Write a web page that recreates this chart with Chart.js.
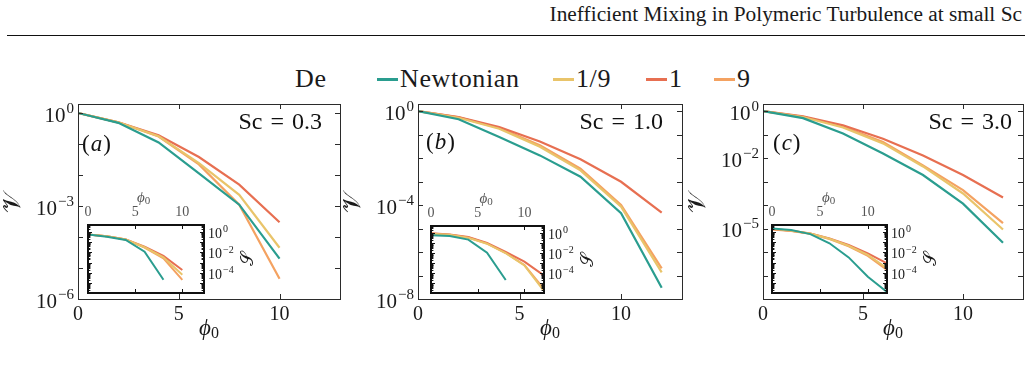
<!DOCTYPE html>
<html>
<head>
<meta charset="utf-8">
<script src="https://cdn.jsdelivr.net/npm/chart.js@4.4.1/dist/chart.umd.min.js"></script>
<style>
  body { margin: 0; width: 1033px; height: 370px; background: #fff; position: relative; overflow: hidden;
         font-family: "Liberation Serif", "DejaVu Serif", serif; color: #1a1a1a; }
  canvas { position: absolute; }
  .txt { position: absolute; white-space: nowrap; line-height: 1; }
  #header { top: 4px; right: 11px; font-size: 20px; }
  #rule { position: absolute; left: 7px; width: 1018px; top: 35px; border-top: 1.4px solid #111; }
  .swatch { position: absolute; height: 3px; }
</style>
</head>
<body>
<div id="header" class="txt">Inefficient Mixing in Polymeric Turbulence at small Sc</div>
<div id="rule"></div>
<div id="legend"></div>
<canvas id="mainA"></canvas>
<canvas id="insetA"></canvas>
<canvas id="mainB"></canvas>
<canvas id="insetB"></canvas>
<canvas id="mainC"></canvas>
<canvas id="insetC"></canvas>
<script>
// Series: Deborah number
const seriesNames = ['Newtonian', '1/9', '1', '9'];
const seriesColors = ['#2a9d8f', '#e9c46a', '#e76f51', '#f4a261'];

// phi_0 sample points
const phiTo8 = [0, 2, 4, 6, 8];
const phiTo10 = [0, 2, 4, 6, 8, 10];
const phiTo12 = [0, 2, 4, 6, 8, 10, 12];

// (a) Sc = 0.3 : V(phi_0)
const vA_newt = [1, 0.48, 0.112, 0.0112, 0.0011, 2.0e-5];
const vA_de19 = [1, 0.5, 0.178, 0.024, 0.0023, 4.5e-5];
const vA_de1  = [1, 0.5, 0.19, 0.038, 0.0049, 3.0e-4];
const vA_de9  = [1, 0.5, 0.174, 0.022, 0.0011, 4.5e-6];
// (a) inset : S(phi_0)
const sA_newt = [0.59, 0.355, 0.166, 0.0117, 2.0e-5];
const sA_de19 = [0.59, 0.4, 0.19, 0.032, 0.0033, 6.3e-5];
const sA_de1  = [0.59, 0.4, 0.19, 0.036, 0.0045, 1.86e-4];
const sA_de9  = [0.59, 0.4, 0.19, 0.029, 0.0026, 2.0e-5];

// (b) Sc = 1.0
const vB_newt = [1, 0.45, 0.079, 0.013, 0.0016, 4.5e-5, 3.0e-8];
const vB_de19 = [1, 0.52, 0.178, 0.03, 0.003, 8.5e-5, 1.35e-7];
const vB_de1  = [1, 0.56, 0.21, 0.051, 0.0089, 9.8e-4, 4.8e-5];
const vB_de9  = [1, 0.54, 0.19, 0.035, 0.0035, 1.0e-4, 2.0e-7];
const sB_newt = [0.59, 0.5, 0.22, 0.0105, 2.0e-5];
const sB_de19 = [0.83, 0.66, 0.33, 0.085, 0.0095, 5.6e-4, 2.1e-6];
const sB_de1  = [0.93, 0.71, 0.4, 0.1, 0.013, 0.00135, 6.5e-5];
const sB_de9  = [0.89, 0.68, 0.355, 0.089, 0.01, 6.3e-4, 3.2e-6];

// (c) Sc = 3.0
const vC_newt = [1, 0.5, 0.11, 0.0155, 0.0019, 1.15e-4, 2.5e-6];
const vC_de19 = [1, 0.56, 0.2, 0.042, 0.0044, 3.1e-4, 9.1e-6];
const vC_de1  = [1, 0.6, 0.25, 0.066, 0.0129, 0.0019, 2.1e-4];
const vC_de9  = [1, 0.575, 0.22, 0.048, 0.0049, 4.3e-4, 1.7e-5];
const sC_newt = [2.3, 1.58, 0.63, 0.079, 0.0032, 4.0e-5, 1.26e-6];
const sC_de19 = [2.14, 1.35, 0.72, 0.224, 0.045, 0.0056, 2.8e-4];
const sC_de1  = [2.0, 1.35, 0.74, 0.24, 0.054, 0.0079, 8.5e-4];
const sC_de9  = [1.78, 1.26, 0.69, 0.21, 0.04, 0.0045, 1.9e-4];

// Tick labels
const xTickLabels = [0, 5, 10];
const yLabelsA = [1, 1e-3, 1e-6];
const yLabelsB = [1, 1e-4, 1e-8];
const yLabelsC = [1, 1e-2, 1e-5];
const yLabelsInset = [1, 1e-2, 1e-4];
const decadesTo6 = [1, 1e-1, 1e-2, 1e-3, 1e-4, 1e-5, 1e-6];
const decadesTo8 = [1, 1e-1, 1e-2, 1e-3, 1e-4, 1e-5, 1e-6, 1e-7, 1e-8];

const SERIF = '"Liberation Serif", "DejaVu Serif", serif';

function seg(ctx, x1, y1, x2, y2) {
    ctx.beginPath();
    ctx.moveTo(x1, y1);
    ctx.lineTo(x2, y2);
    ctx.stroke();
}

// "10^e" label with a raised exponent
function powLabel(ctx, value, x, y, fs, align) {
    const e = Math.round(Math.log10(value));
    const exp = e < 0 ? '\u2212' + (-e) : String(e);
    const fe = Math.round(fs * 0.72);
    ctx.font = fs + 'px ' + SERIF;
    const wb = ctx.measureText('10').width;
    ctx.font = fe + 'px ' + SERIF;
    const we = ctx.measureText(exp).width;
    const x0 = align === 'right' ? x - wb - we - 1 : x;
    const base = y + fs * 0.36;
    ctx.textAlign = 'left';
    ctx.textBaseline = 'alphabetic';
    ctx.font = fs + 'px ' + SERIF;
    ctx.fillText('10', x0, base);
    ctx.font = fe + 'px ' + SERIF;
    ctx.fillText(exp, x0 + wb + 1, base - fs * 0.42);
}

// phi_0 axis title
function phiLabel(ctx, cx, cy, fs, color) {
    const fs2 = Math.round(fs * 0.7);
    ctx.fillStyle = color;
    ctx.font = 'italic ' + fs + 'px ' + SERIF;
    const w1 = ctx.measureText('\u03d5').width;
    ctx.font = fs2 + 'px ' + SERIF;
    const w2 = ctx.measureText('0').width;
    const x0 = cx - (w1 + w2) / 2;
    const base = cy + fs * 0.3;
    ctx.textAlign = 'left';
    ctx.textBaseline = 'alphabetic';
    ctx.font = 'italic ' + fs + 'px ' + SERIF;
    ctx.fillText('\u03d5', x0, base);
    ctx.font = fs2 + 'px ' + SERIF;
    ctx.fillText('0', x0 + w1, base + fs * 0.15);
}

// Inward ticks, frame, labels and annotations drawn on the chart's own scales
function makeDeco(cfg) {
    return {
        id: 'deco',
        beforeDraw(chart) {
            if (!cfg.fill) return;
            const a = chart.chartArea, ctx = chart.ctx;
            ctx.save();
            ctx.fillStyle = cfg.fill;
            ctx.fillRect(a.left, a.top, a.right - a.left, a.bottom - a.top);
            ctx.restore();
        },
        afterDraw(chart) {
            const ctx = chart.ctx, a = chart.chartArea;
            const xs = chart.scales.x, ys = chart.scales.y;
            const L = cfg.tickLen;
            ctx.save();
            ctx.strokeStyle = cfg.frameColor;
            ctx.lineWidth = 1;
            cfg.xTicks.forEach(v => {
                const p = Math.round(xs.getPixelForValue(v)) + 0.5;
                seg(ctx, p, a.bottom, p, a.bottom - L);
                seg(ctx, p, a.top, p, a.top + L);
            });
            cfg.yTicks.forEach(v => {
                const p = Math.round(ys.getPixelForValue(v)) + 0.5;
                seg(ctx, a.left, p, a.left + L, p);
                seg(ctx, a.right, p, a.right - L, p);
            });
            if (cfg.yMinor) {
                for (let d = -7; d <= 1; d++) {
                    for (let k = 2; k <= 9; k++) {
                        const v = k * Math.pow(10, d);
                        if (v <= ys.min || v >= ys.max) continue;
                        const p = Math.round(ys.getPixelForValue(v)) + 0.5;
                        seg(ctx, a.left, p, a.left + L * 0.6, p);
                        seg(ctx, a.right, p, a.right - L * 0.6, p);
                    }
                }
            }
            ctx.lineWidth = cfg.frameWidth;
            const off = cfg.frameWidth % 2 ? 0.5 : 0;
            ctx.strokeRect(a.left + off, a.top + off, a.right - a.left, a.bottom - a.top);

            // x tick labels
            ctx.fillStyle = cfg.xColor;
            ctx.font = cfg.xFont + 'px ' + SERIF;
            ctx.textAlign = 'center';
            ctx.textBaseline = 'middle';
            const top = cfg.xSide === 'top';
            const ly = top ? a.top - cfg.xGap : a.bottom + cfg.xGap;
            cfg.xLabels.forEach(v => ctx.fillText(String(v), xs.getPixelForValue(v), ly));

            // y tick labels
            ctx.fillStyle = cfg.yColor;
            cfg.yLabels.forEach(v => {
                const p = ys.getPixelForValue(v) + 1;
                if (cfg.ySide === 'left') powLabel(ctx, v, a.left - cfg.yGap, p, cfg.yFont, 'right');
                else powLabel(ctx, v, a.right + cfg.yGap, p, cfg.yFont, 'left');
            });

            // axis titles
            const tx = cfg.xTitle;
            phiLabel(ctx, xs.getPixelForValue(tx.at), top ? a.top - tx.gap : a.bottom + tx.gap, tx.size, tx.color);
            const ty = cfg.yTitle;
            ctx.save();
            ctx.translate(cfg.ySide === 'left' ? a.left - ty.gap : a.right + ty.gap, (a.top + a.bottom) / 2);
            ctx.rotate(-Math.PI / 2);
            ctx.fillStyle = ty.color;
            ctx.font = ty.size + 'px ' + SERIF;
            ctx.textAlign = 'center';
            ctx.textBaseline = 'middle';
            ctx.fillText(ty.text, 0, 0);
            ctx.restore();

            // panel tag (offsets from the plot's top-left corner)
            if (cfg.tag) {
                const fs = 23, y = a.top + cfg.tag.dy;
                let x = a.left + cfg.tag.dx;
                ctx.fillStyle = '#111';
                ctx.textAlign = 'left';
                ctx.textBaseline = 'middle';
                ctx.font = fs + 'px ' + SERIF;
                ctx.fillText('(', x, y);
                x += ctx.measureText('(').width + 1;
                ctx.font = 'italic ' + fs + 'px ' + SERIF;
                ctx.fillText(cfg.tag.text, x, y);
                x += ctx.measureText(cfg.tag.text).width + 1;
                ctx.font = fs + 'px ' + SERIF;
                ctx.fillText(')', x, y);
            }
            // Schmidt number (offsets from the plot's top-right corner)
            if (cfg.sc) {
                ctx.fillStyle = '#111';
                ctx.font = '24px ' + SERIF;
                ctx.textAlign = 'right';
                ctx.textBaseline = 'middle';
                ctx.fillText(cfg.sc.text, a.right - cfg.sc.dx, a.top + cfg.sc.dy);
            }
            ctx.restore();
        }
    };
}

function buildChart(id, area, pad, xMax, yMin, yMax, xs, ys, lineWidth, deco) {
    const cv = document.getElementById(id);
    cv.width = area.w + pad.l + pad.r;
    cv.height = area.h + pad.t + pad.b;
    cv.style.left = (area.x - pad.l) + 'px';
    cv.style.top = (area.y - pad.t) + 'px';
    const datasets = seriesNames.map((name, i) => ({
        label: name,
        data: xs[i].map((x, j) => ({ x: x, y: ys[i][j] })),
        borderColor: seriesColors[i],
        borderWidth: lineWidth,
        fill: false,
        pointRadius: 0,
        tension: 0
    }));
    return new Chart(cv, {
        type: 'line',
        data: { datasets: datasets },
        options: {
            responsive: false,
            animation: false,
            devicePixelRatio: 1,
            layout: { padding: { left: pad.l, right: pad.r, top: pad.t, bottom: pad.b } },
            plugins: { legend: { display: false }, tooltip: { enabled: false } },
            scales: {
                x: { type: 'linear', min: 0, max: xMax, display: false },
                y: { type: 'logarithmic', min: yMin, max: yMax, display: false }
            }
        },
        plugins: [makeDeco(deco)]
    });
}

const mainPad = { l: 75, r: 12, t: 10, b: 45 };
const insetPad = { l: 4, r: 54, t: 40, b: 4 };

function mainDeco(yTicks, yLabels, tag, sc) {
    return {
        frameColor: '#2b2b2b', frameWidth: 1, tickLen: 5,
        xTicks: xTickLabels, xLabels: xTickLabels, xSide: 'bottom', xGap: 16, xFont: 20, xColor: '#1a1a1a',
        yTicks: yTicks, yLabels: yLabels, ySide: 'left', yGap: 4, yFont: 21, yColor: '#1a1a1a',
        xTitle: { at: 6.5, gap: 29, size: 23, color: '#1a1a1a' },
        yTitle: { text: '\ud835\udcb1', gap: 65, size: 26, color: '#1a1a1a' },
        tag: tag, sc: sc
    };
}

function insetDeco() {
    return {
        fill: '#ffffff', frameColor: '#111', frameWidth: 2, tickLen: 4, yMinor: true,
        xTicks: xTickLabels, xLabels: xTickLabels, xSide: 'top', xGap: 13, xFont: 14, xColor: '#555',
        yTicks: decadesTo6, yLabels: yLabelsInset, ySide: 'right', yGap: 4, yFont: 14, yColor: '#1a1a1a',
        xTitle: { at: 5.9, gap: 28, size: 15, color: '#555' },
        yTitle: { text: '\ud835\udcae', gap: 44, size: 18, color: '#1a1a1a' }
    };
}

const SC_SP = '\u2004';

buildChart('mainA', { x: 78, y: 104, w: 262, h: 195 }, mainPad, 13, 1e-6, 1.95,
    [phiTo10, phiTo10, phiTo10, phiTo10], [vA_newt, vA_de19, vA_de1, vA_de9], 2.2,
    mainDeco(decadesTo6, yLabelsA, { text: 'a', dx: 4, dy: 41 }, { text: 'Sc' + SC_SP + '=' + SC_SP + '0.3', dx: 18, dy: 19 }));
buildChart('insetA', { x: 88, y: 225, w: 116, h: 68 }, insetPad, 12.3, 1e-6, 5,
    [phiTo8, phiTo10, phiTo10, phiTo10], [sA_newt, sA_de19, sA_de1, sA_de9], 2, insetDeco());

buildChart('mainB', { x: 418, y: 104, w: 264, h: 195 }, mainPad, 13, 1e-8, 2,
    [phiTo12, phiTo12, phiTo12, phiTo12], [vB_newt, vB_de19, vB_de1, vB_de9], 2.2,
    mainDeco(decadesTo8, yLabelsB, { text: 'b', dx: 8, dy: 39 }, { text: 'Sc' + SC_SP + '=' + SC_SP + '1.0', dx: 19, dy: 19 }));
buildChart('insetB', { x: 431, y: 226, w: 113, h: 67 }, insetPad, 12.1, 1e-6, 5,
    [phiTo8, phiTo12, phiTo12, phiTo12], [sB_newt, sB_de19, sB_de1, sB_de9], 2, insetDeco());

buildChart('mainC', { x: 763, y: 104, w: 260, h: 195 }, mainPad, 13, 1e-8, 2,
    [phiTo12, phiTo12, phiTo12, phiTo12], [vC_newt, vC_de19, vC_de1, vC_de9], 2.2,
    mainDeco(decadesTo8, yLabelsC, { text: 'c', dx: 10, dy: 40 }, { text: 'Sc' + SC_SP + '=' + SC_SP + '3.0', dx: 11, dy: 19 }));
buildChart('insetC', { x: 772, y: 225, w: 115, h: 68 }, insetPad, 12, 1e-6, 5,
    [phiTo12, phiTo12, phiTo12, phiTo12], [sC_newt, sC_de19, sC_de1, sC_de9], 2, insetDeco());

// Legend
const legendTitleX = 295;
const legendSwatchX = [377, 553, 646, 714];
const legendStyle = 'top:66px;font-size:26px;letter-spacing:0.6px;';
const legend = document.getElementById('legend');
const deLabel = document.createElement('div');
deLabel.className = 'txt';
deLabel.style.cssText = 'left:' + legendTitleX + 'px;' + legendStyle;
deLabel.textContent = 'De';
legend.appendChild(deLabel);
seriesNames.forEach((name, i) => {
    const sw = document.createElement('div');
    sw.className = 'swatch';
    sw.style.cssText = 'left:' + legendSwatchX[i] + 'px;top:78px;width:21px;background:' + seriesColors[i] + ';';
    legend.appendChild(sw);
    const t = document.createElement('div');
    t.className = 'txt';
    t.style.cssText = 'left:' + (legendSwatchX[i] + 23) + 'px;' + legendStyle;
    t.textContent = name;
    legend.appendChild(t);
});

// Fit running header to its printed width
const hdr = document.getElementById('header');
hdr.style.fontSize = (20 * 472 / hdr.offsetWidth).toFixed(2) + 'px';
</script>
</body>
</html>
